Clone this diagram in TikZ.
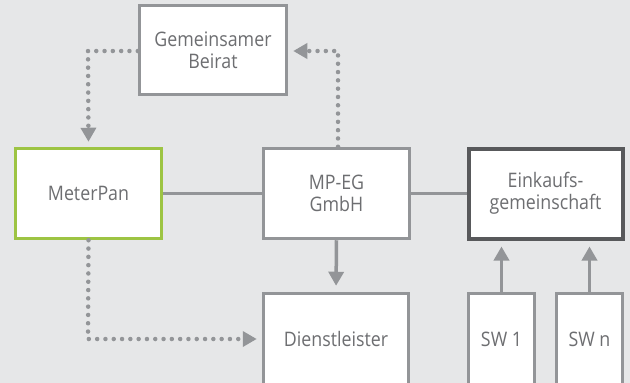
\documentclass[tikz,border=0pt]{standalone}
\usepackage{fontspec}
\setmainfont[FakeStretch=0.89]{Open Sans}
\usetikzlibrary{arrows.meta}
\definecolor{bg}{HTML}{E6E7E8}
\definecolor{boxgray}{HTML}{939598}
\definecolor{darkbox}{HTML}{58595B}
\definecolor{mpgreen}{HTML}{9DC443}
\definecolor{txt}{HTML}{6D6E71}
\tikzset{
  box/.style={draw=boxgray, line width=3.5pt, fill=white, rectangle, align=center,
    text=txt, font=\fontsize{20}{22}\selectfont, inner sep=0pt},
  conn/.style={draw=boxgray, line width=3.5pt},
  arr/.style={conn, -{Triangle[length=14pt,width=15pt]}, shorten >=6pt},
  dots/.style={draw=boxgray, line width=4.5pt, line cap=round, dash pattern=on 0pt off 8.3pt,
    -{Triangle[length=14pt,width=15pt]}, shorten >=5pt},
}
\begin{document}
\begin{tikzpicture}[x=1pt,y=-1pt]
\useasboundingbox[fill=bg] (0,0) rectangle (630,383);
\node[box, minimum width=147pt, minimum height=89pt] (beirat) at (213,50) {Gemeinsamer\\Beirat};
\node[box, draw=mpgreen, minimum width=146pt, minimum height=90pt] (meter) at (88.5,193.5) {MeterPan};
\node[box, minimum width=146pt, minimum height=90pt] (mpeg) at (336.5,193.5) {MP-EG\\GmbH};
\node[box, draw=darkbox, line width=4pt, minimum width=154pt, minimum height=90pt] (eink) at (545.5,193.5) {Einkaufs-\\gemeinschaft};
\node[box, minimum width=145pt, minimum height=91pt] (dienst) at (336,339) {Dienstleister};
\node[box, minimum width=66pt, minimum height=91pt] (sw1) at (501.5,339) {SW 1};
\node[box, minimum width=66pt, minimum height=91pt] (swn) at (589.5,339) {SW n};
\coordinate (c1) at (88,51);
\coordinate (c2) at (338,51);
\coordinate (c3) at (88,339);
\draw[conn] (meter.east) -- (mpeg.west);
\draw[conn] (mpeg.east) -- (eink.west);
\draw[arr] (mpeg.south) -- (dienst.north);
\draw[arr] (sw1.north) -- (sw1.north |- eink.south);
\draw[arr] (swn.north) -- (swn.north |- eink.south);
\draw[dots] (beirat.west |- c1) -- (c1) -- (meter.north);
\draw[dots] (mpeg.north -| c2) -- (c2) -- (beirat.east |- c2);
\draw[dots] (meter.south) -- (c3) -- (dienst.west);
\end{tikzpicture}
\end{document}
